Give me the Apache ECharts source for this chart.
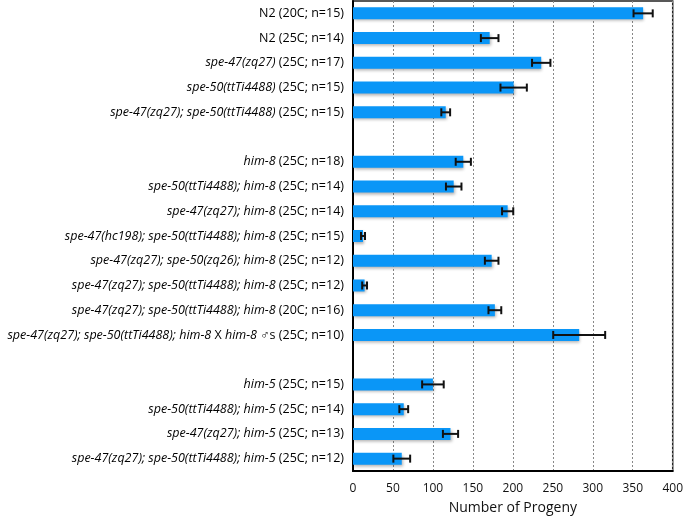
<!DOCTYPE html>
<html><head><meta charset="utf-8">
<script src="https://cdn.jsdelivr.net/npm/echarts@6/dist/echarts.min.js"></script>
<style>html,body{margin:0;padding:0;background:#fff}#c{width:686px;height:520px}</style>
</head><body><div id="c"></div>
<script>
var categories = [
  'N2 (20C; n=15)',
  'N2 (25C; n=14)',
  '{i|spe-47(zq27)} (25C; n=17)',
  '{i|spe-50(ttTi4488)} (25C; n=15)',
  '{i|spe-47(zq27); spe-50(ttTi4488)} (25C; n=15)',
  '',
  '{i|him-8} (25C; n=18)',
  '{i|spe-50(ttTi4488); him-8} (25C; n=14)',
  '{i|spe-47(zq27); him-8} (25C; n=14)',
  '{i|spe-47(hc198); spe-50(ttTi4488); him-8} (25C; n=15)',
  '{i|spe-47(zq27); spe-50(zq26); him-8} (25C; n=12)',
  '{i|spe-47(zq27); spe-50(ttTi4488); him-8} (25C; n=12)',
  '{i|spe-47(zq27); spe-50(ttTi4488); him-8} (20C; n=16)',
  '{i|spe-47(zq27); spe-50(ttTi4488); him-8} X {i|him-8} \u2642s (25C; n=10)',
  '',
  '{i|him-5} (25C; n=15)',
  '{i|spe-50(ttTi4488); him-5} (25C; n=14)',
  '{i|spe-47(zq27); him-5} (25C; n=13)',
  '{i|spe-47(zq27); spe-50(ttTi4488); him-5} (25C; n=12)'
];
var means = [363, 171, 235.5, 201, 116, null, 138, 126, 193.5, 12.5, 173.5, 14.5, 177.5, 283, null, 100, 63.5, 122, 61];
var errors = [12, 11, 11.5, 16.5, 5.5, null, 9.5, 9.7, 7, 2.5, 8.5, 3, 8, 32.5, null, 13.5, 5.5, 9.5, 10.5];
var xTicks = [0, 50, 100, 150, 200, 250, 300, 350, 400];

var chart = echarts.init(document.getElementById('c'));
var errData = [];
for (var k = 0; k < categories.length; k++) {
  if (means[k] != null) errData.push([means[k] - errors[k], means[k] + errors[k], k]);
}
var FONT = 'Open Sans';
chart.setOption({
  animation: false,
  grid: {left: 353, right: 9, top: 1, bottom: 45, show: true, borderColor: '#222', borderWidth: 1.5, containLabel: false},
  xAxis: {
    type: 'value', min: xTicks[0], max: xTicks[xTicks.length - 1], interval: 50,
    name: 'Number of Progeny', nameLocation: 'middle', nameGap: 30,
    nameTextStyle: {fontFamily: FONT, fontSize: 14, color: '#111'},
    axisLine: {show: true, lineStyle: {color: '#000', width: 2}},
    axisTick: {show: false},
    axisLabel: {fontFamily: FONT, fontSize: 12, color: '#111', margin: 12},
    splitLine: {show: true, lineStyle: {type: [2, 2], color: '#888', width: 1}}
  },
  yAxis: {
    type: 'category', data: categories, inverse: true,
    axisLine: {show: true, lineStyle: {color: '#000', width: 2}},
    axisTick: {show: false},
    axisLabel: {
      fontFamily: FONT, fontSize: 12.5, color: '#000', margin: 9, interval: 0,
      rich: {i: {fontFamily: FONT, fontSize: 12.5, fontStyle: 'italic', color: '#000'}}
    }
  },
  series: [{
    type: 'bar', data: means, barWidth: 12,
    itemStyle: {color: '#0a96f7', shadowBlur: 3, shadowColor: 'rgba(0,0,0,0.3)', shadowOffsetX: 1, shadowOffsetY: 2}
  }, {
    type: 'custom', data: errData, z: 10,
    encode: {x: [0, 1], y: 2},
    renderItem: function (params, api) {
      var lo = api.coord([api.value(0), api.value(2)]);
      var hi = api.coord([api.value(1), api.value(2)]);
      var h = 4;
      var st = {stroke: '#111', lineWidth: 2};
      return {type: 'group', children: [
        {type: 'line', shape: {x1: lo[0], y1: lo[1], x2: hi[0], y2: hi[1]}, style: st},
        {type: 'line', shape: {x1: lo[0], y1: lo[1] - h, x2: lo[0], y2: lo[1] + h}, style: st},
        {type: 'line', shape: {x1: hi[0], y1: hi[1] - h, x2: hi[0], y2: hi[1] + h}, style: st}
      ]};
    }
  }]
});
</script></body></html>
